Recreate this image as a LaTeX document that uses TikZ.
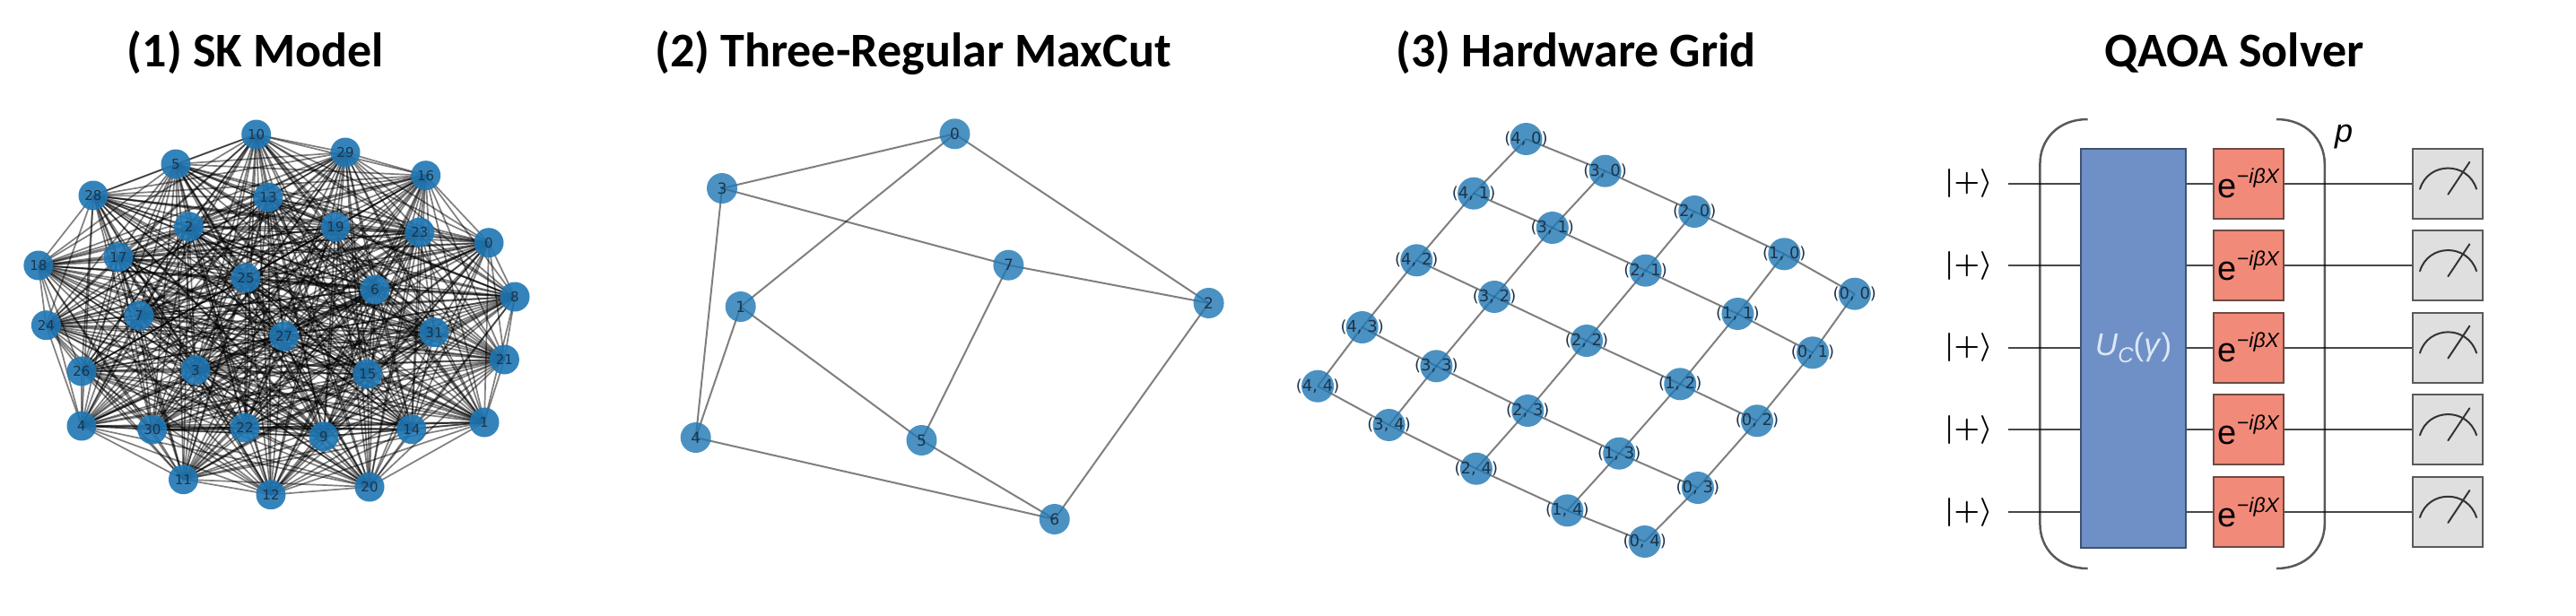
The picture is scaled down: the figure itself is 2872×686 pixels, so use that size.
\documentclass[tikz,border=0pt]{standalone}
\usepackage{fontspec}
\usepackage{graphicx}
\setmainfont{Liberation Sans}
\newfontfamily\titlefont{Carlito}
\newfontfamily\labelfont{DejaVu Sans}
\usetikzlibrary{backgrounds,calc}
\definecolor{nodeblue}{HTML}{1F77B4}
\definecolor{labelink}{HTML}{1E3348}
\definecolor{ublue}{HTML}{6F90C6}
\definecolor{uedge}{HTML}{3F5270}
\definecolor{rgate}{HTML}{F28A7A}
\definecolor{redge}{HTML}{6E4A44}
\definecolor{mgrey}{HTML}{DFDFDF}
\definecolor{medge}{HTML}{5A5A5A}
\definecolor{uink}{HTML}{DDE7F6}
\definecolor{wirec}{HTML}{484848}
\tikzset{
  gnode/.style={circle,fill=nodeblue,fill opacity=.8,text opacity=1,text=labelink,inner sep=0pt,minimum size=34pt,font=\labelfont\fontsize{17}{18}\selectfont},
  sknode/.style={gnode,minimum size=33pt,fill opacity=.9,font=\labelfont\fontsize{15}{16}\selectfont},
  gridnode/.style={gnode,minimum size=36pt,font=\labelfont\fontsize{18}{18}\selectfont},
  skedge/.style={draw=black,opacity=.5,line width=1.7pt},
  gedge/.style={draw=black,opacity=.5,line width=2pt},
  titletext/.style={anchor=base,font=\titlefont\bfseries\fontsize{54}{60}\selectfont,text=black},
  ubox/.style={draw=uedge,fill=ublue,line width=2pt,inner sep=0pt},
  redbox/.style={draw=redge,fill=rgate,line width=2pt,inner sep=0pt,minimum width=78pt,minimum height=78pt},
  meterbox/.style={draw=medge,fill=mgrey,line width=2pt,inner sep=0pt,minimum width=78pt,minimum height=78pt},
  wire/.style={draw=wirec,line width=2pt},
  bracketline/.style={draw=black,opacity=.65,line width=2.5pt},
  meterline/.style={draw=black!80,line width=2pt,line cap=round}
}
\newcommand{\expgate}{{\fontsize{38}{40}\selectfont e}\raisebox{16pt}{\fontsize{23}{24}\selectfont −\textit{iβX}}}
\begin{document}
\begin{tikzpicture}[x=1pt,y=-1pt]
\begin{pgfonlayer}{background}
\path[use as bounding box,fill=white] (0,0) rectangle (2872,686);
\end{pgfonlayer}
% titles
\node[titletext] (t1) at (285,74) {(1) SK Model};
\node[titletext] (t2) at (1018,74) {(2) Three-Regular MaxCut};
\node[titletext] (t3) at (1757,74) {(3) Hardware Grid};
\node[titletext] (t4) at (2491,74) {QAOA Solver};
% SK model
\foreach \n/\px/\py in {10/285.7/150,29/385/170,16/474.7/195.7,5/196/183,28/104/218,13/299/220,2/210.6/252.7,19/374/253,23/467.8/259,0/545/270.7,18/42.9/296,17/132/286.7,25/274/310,6/418/323,8/574/331,7/155/352,24/51.4/362.7,27/316.7/375,31/484/370.7,21/562.4/401,26/91/414,3/218/412.7,15/409.8/417,4/91/475,30/169.8/479,22/273/477,9/361/486.7,14/458.8/478.7,1/540/471,11/204.5/534.7,12/302/551.7,20/412/543}
  {\node[sknode] (s\n) at (\px,\py) {\n};}
\begin{pgfonlayer}{background}
\foreach \a in {0,...,31}{
  \foreach \b in {0,...,31}{
    \ifnum\a<\b\relax \draw[skedge] (s\a.center) -- (s\b.center); \fi
  }
}
\end{pgfonlayer}
% three-regular graph
\foreach \n/\px/\py in {0/1064.5/149.3,3/805/210,7/1124.4/295.7,2/1347.6/338,1/825.7/342,4/775.7/488,5/1027.5/491,6/1175.7/579}
  {\node[gnode] (r\n) at (\px,\py) {\n};}
\begin{pgfonlayer}{background}
\foreach \a/\b in {0/3,0/1,0/2,3/7,3/4,7/2,7/5,1/4,1/5,2/6,4/6,5/6}
  {\draw[gedge] (r\a.center) -- (r\b.center);}
\end{pgfonlayer}
% hardware grid
\foreach \n/\m/\px/\py in {4/0/1701.5/155,3/0/1789.6/190.7,2/0/1889.2/236,1/0/1989.3/283.3,0/0/2067.8/327.7,
  4/1/1643.1/215.7,3/1/1730.8/254,2/1/1834.6/301.7,1/1/1937.4/350,0/1/2021/393.3,
  4/2/1579.3/290.3,3/2/1666.1/331,2/2/1769/380,1/2/1873.2/428.3,0/2/1959/469.3,
  4/3/1518.7/365,3/3/1601.4/408.3,2/3/1703.3/458,1/3/1805.2/505.7,0/3/1892.9/544,
  4/4/1469.1/430.7,3/4/1548.6/474,2/4/1645.9/522.7,1/4/1747.4/569.3,0/4/1833.7/604}
  {\node[gridnode] (g\n\m) at (\px,\py) {\makebox[0pt][c]{(\n, \m)}};}
\begin{pgfonlayer}{background}
\foreach \m in {0,...,4}{
  \foreach \n/\k in {0/1,1/2,2/3,3/4}{
    \draw[gedge] (g\n\m.center) -- (g\k\m.center);
    \draw[gedge] (g\m\n.center) -- (g\m\k.center);
  }
}
\end{pgfonlayer}
% circuit
\node[ubox,minimum width=117pt,minimum height=444.7pt] (ublock) at (2378.5,388.3) {\textcolor{uink}{\fontsize{35}{40}\selectfont\textit{U}\raisebox{-8pt}{\fontsize{24}{28}\selectfont\textit{C}}(\textit{γ})}};
\foreach \i/\yy in {1/204.8,2/296.3,3/387.6,4/479.3,5/571}{
  \coordinate (w\i) at (2239,\yy);
  \node[anchor=center,text=black] (k\i) at (2195,\yy) {\scalebox{3.2}{\boldmath$|{+}\rangle$}};
  \node[redbox] (x\i) at (2507.3,\yy) {\expgate};
  \node[meterbox] (m\i) at (2729.3,\yy) {};
  \draw[wire] (w\i) -- (w\i -| ublock.west);
  \draw[wire] (ublock.east |- w\i) -- (x\i.west);
  \draw[wire] (x\i.east) -- (m\i.west);
  \begin{scope}[shift={(m\i.center)}]
    \draw[meterline] (-31.3,6) .. controls (-22,-25) and (22,-25) .. (31.7,6);
    \draw[meterline] (0,12) -- (24,-24);
  \end{scope}
}
\draw[bracketline] (2327.5,133) .. controls (2295,133) and (2274.4,155) .. (2274.4,183) -- (2274.4,584) .. controls (2274.4,612) and (2295,634) .. (2327.5,634);
\draw[bracketline] (2538,133) .. controls (2570,133) and (2591.8,155) .. (2591.8,183) -- (2591.8,584) .. controls (2591.8,612) and (2570,634) .. (2538,634);
\node[anchor=base,font=\fontsize{36}{38}\selectfont\itshape] (plabel) at (2613,158) {p};
\end{tikzpicture}
\end{document}
